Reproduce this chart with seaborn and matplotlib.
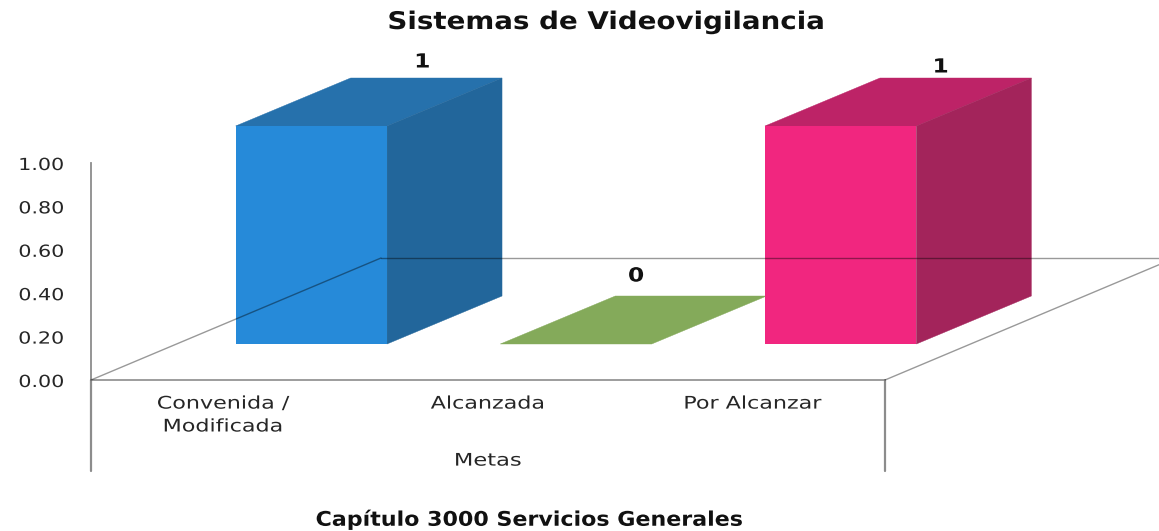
import matplotlib
matplotlib.use('Agg')
import matplotlib.pyplot as plt
import seaborn as sns
from matplotlib.patches import Polygon
from matplotlib.patheffects import AbstractPathEffect
from matplotlib.transforms import Affine2D

categories = ['Convenida /\nModificada', 'Alcanzada', 'Por Alcanzar']
metas = [1, 0, 1]
y_ticks = [0.0, 0.2, 0.4, 0.6, 0.8, 1.0]

front_colors = ['#268AD9', '#84AA5A', '#F1267F']
side_colors = ['#22669B', '#84AA5A', '#A3245B']
top_colors = ['#2671AC', '#84AA5A', '#BD2367']
label_offsets = [(111, 64), (60, 68), (100, 59)]

W, H = 1159, 531
BAR_DX, BAR_DY = 115, 48      # depth of a bar, pixels
FLOOR_DX, FLOOR_DY = 290, 122  # depth of the floor, pixels
LINE = '#8C8C8C'
TEXT = '#262626'

sns.set_style('white')
plt.rcParams['font.family'] = ['DejaVu Sans']

fig = plt.figure(figsize=(W / 100, H / 100), dpi=100)


class Stretch(AbstractPathEffect):
    # the picture was stretched sideways, so the text is too
    def __init__(self, sx, xc):
        super().__init__()
        self.stretch = Affine2D().translate(-xc, 0).scale(sx, 1).translate(xc, 0)

    def draw_path(self, renderer, gc, tpath, affine, rgbFace=None):
        renderer.draw_path(gc, tpath, affine + self.stretch, rgbFace)


def widen(text, sx):
    box = text.get_window_extent()
    text.set_path_effects([Stretch(sx, (box.x0 + box.x1) / 2)])


def px_axes(left, top, right, bottom):
    return fig.add_axes([left / W, 1 - bottom / H, (right - left) / W, (bottom - top) / H])


# y down pixels, same numbers as the reference picture
px = Affine2D().scale(1, -1).translate(0, H)

ax = px_axes(91, 163, 885, 380)
ax.set_xlim(-0.5, 2.5)
ax.set_ylim(0, 1)
ax.set_xticks(range(len(categories)), categories, fontsize=12.5, color=TEXT, linespacing=1.35)
ax.set_yticks(y_ticks, [f'{t:.2f}' for t in y_ticks], fontsize=12, color=TEXT)
ax.tick_params(axis='x', length=0, pad=10.5)
ax.tick_params(axis='y', length=0, pad=22.7)
for s in ['top', 'right']:
    ax.spines[s].set_visible(False)
ax.spines['left'].set_color(LINE)
ax.spines['left'].set_linewidth(1.3)
ax.spines['bottom'].set_color(LINE)
ax.spines['bottom'].set_linewidth(1.2)
ax.set_xlabel('Metas', fontsize=12.5, color=TEXT)
ax.xaxis.set_label_coords(0.5, -0.33)

# bars sit further back on the floor
ax_bars = px_axes(179, 126, 973, 344)
ax_bars.patch.set_alpha(0)
sns.barplot(x=categories, y=metas, hue=categories, palette=front_colors, legend=False,
            width=0.572, saturation=1, linewidth=0, ax=ax_bars)
ax_bars.set_xlim(-0.5, 2.5)
ax_bars.set_ylim(0, 1)
ax_bars.axis('off')

fig.canvas.draw()
value_labels = []
for i, (bar, val) in enumerate(zip(ax_bars.patches, metas)):
    bar.set_zorder(3.5 + i)
    (x0, y0), (x1, y1) = ax_bars.transData.transform(
        [(bar.get_x(), 0), (bar.get_x() + bar.get_width(), val)])
    y0, y1 = H - y0, H - y1
    top = [(x0, y1), (x1, y1), (x1 + BAR_DX, y1 - BAR_DY), (x0 + BAR_DX, y1 - BAR_DY)]
    side = [(x1, y0), (x1 + BAR_DX, y0 - BAR_DY), (x1 + BAR_DX, y1 - BAR_DY), (x1, y1)]
    ax_bars.add_patch(Polygon(top, closed=True, fc=top_colors[i], ec=top_colors[i], lw=0.3,
                              transform=px, clip_on=False, zorder=3 + i))
    if val > 0:
        ax_bars.add_patch(Polygon(side, closed=True, fc=side_colors[i], ec=side_colors[i], lw=0.3,
                                  transform=px, clip_on=False, zorder=3 + i))
    dx, dy = label_offsets[i]
    value_labels.append(ax_bars.annotate(str(val), xy=((x0 + x1) / 2, y1), xycoords=px,
                                         xytext=(dx, dy), textcoords='offset pixels',
                                         ha='center', va='center', fontsize=14, fontweight='bold',
                                         color='#111111', annotation_clip=False, zorder=10))

# floor edges run over the bars, faintly
x_l, x_r, y_f = 91, 885, 380
floor_lines = [
    ([x_l, x_l + FLOOR_DX], [y_f, y_f - FLOOR_DY]),
    ([x_l + FLOOR_DX, x_r + FLOOR_DX], [y_f - FLOOR_DY, y_f - FLOOR_DY]),
    ([x_r, x_r + FLOOR_DX], [y_f, y_f - FLOOR_DY]),
]
for xs, ys in floor_lines:
    ax_bars.plot(xs, ys, color='black', alpha=0.4, lw=1.0, transform=px, clip_on=False, zorder=9)
# category box under the floor
for x in [x_l, x_r]:
    ax_bars.plot([x, x], [y_f, 471], color=LINE, lw=1.6, transform=px, clip_on=False, zorder=2)

title = fig.text(605 / W, 1 - 22 / H, 'Sistemas de Videovigilancia', ha='center', va='center',
                 fontsize=17.5, fontweight='bold', color='#111111')
foot = fig.text(530 / W, 1 - 520 / H, 'Capítulo 3000 Servicios Generales', ha='center', va='center',
                fontsize=14.5, fontweight='bold', color='#111111')

fig.canvas.draw()
for t in ax.get_xticklabels():
    widen(t, 1.28)
for t in ax.get_yticklabels():
    widen(t, 1.24)
widen(ax.xaxis.label, 1.3)
for t in value_labels:
    widen(t, 1.2)
widen(title, 1.14)
widen(foot, 1.1)

fig.savefig('out.png', dpi=100, facecolor='white')
